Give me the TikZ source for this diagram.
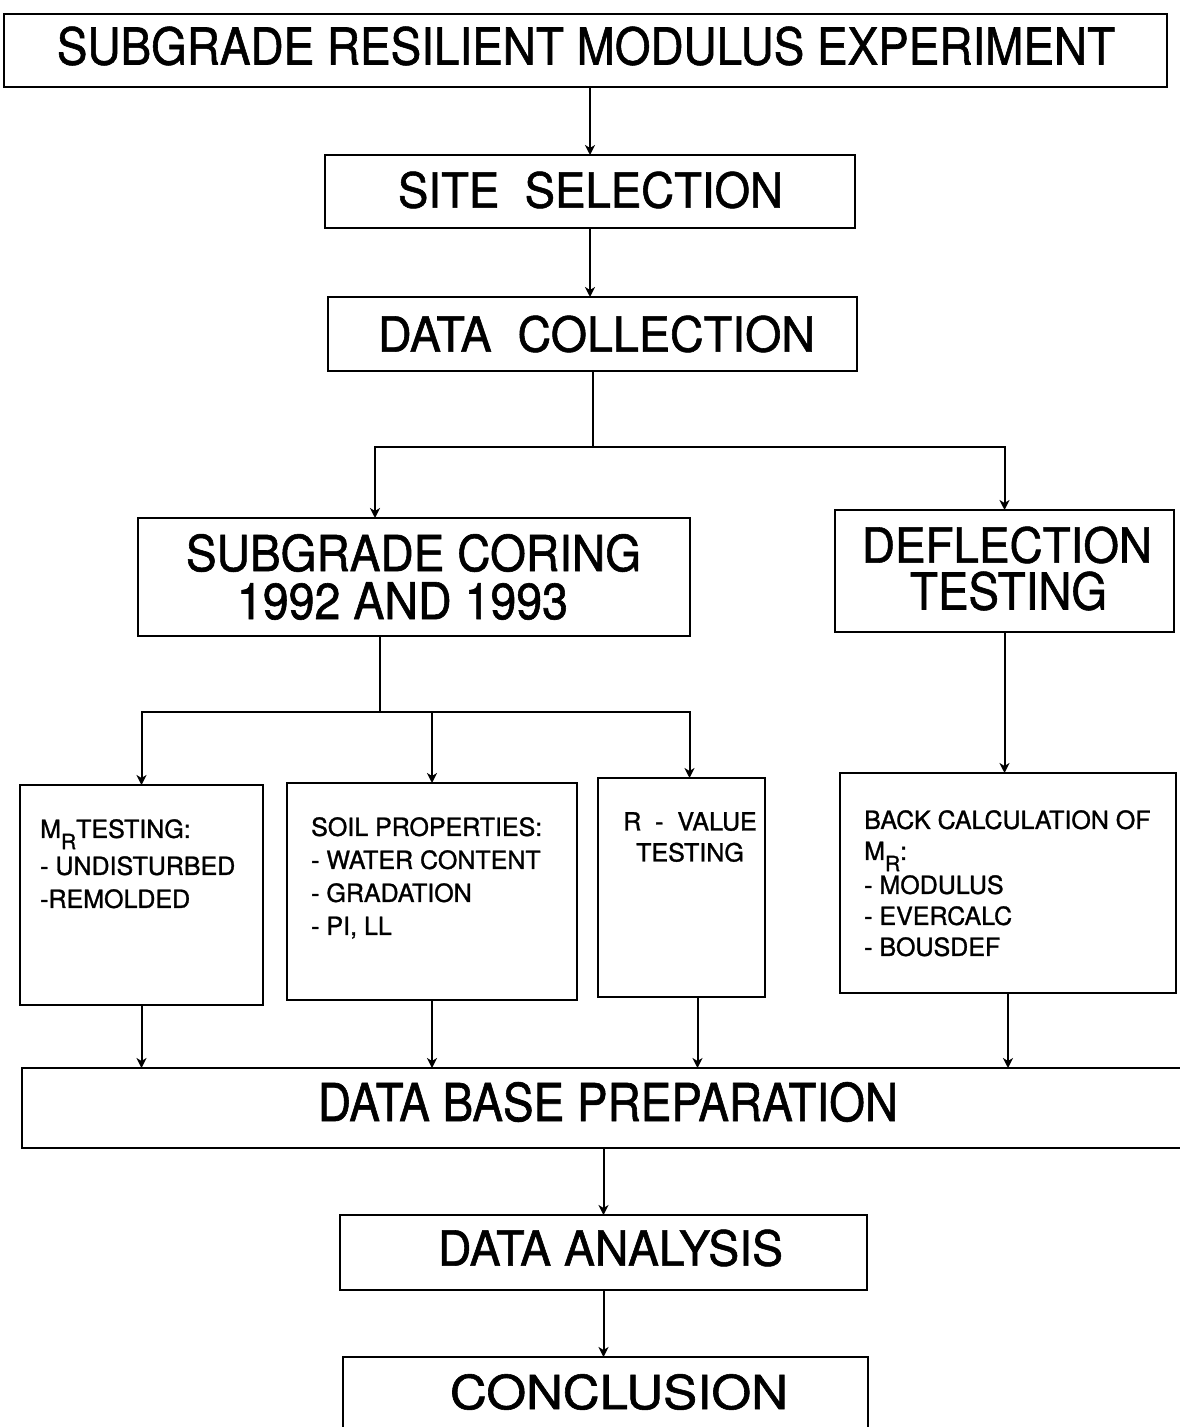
\documentclass[tikz,border=0pt]{standalone}
\usepackage{fontspec}
\setmainfont{TeX Gyre Heros}[FakeBold=1.2]
\usetikzlibrary{arrows.meta,calc}
% capital-letter labels stretched to a given width and cap height
\newcommand{\fitcaps}[3]{\resizebox{#1pt}{#2pt}{#3}}
% resilient modulus symbol M_R
\newcommand{\MR}{M\raisebox{-0.45em}{\fontsize{21}{21}\selectfont R}}

\begin{document}
\begin{tikzpicture}[x=1pt,y=-1pt,
  box/.style={draw, line width=2.8pt, inner sep=0pt, outer sep=0pt},
  link/.style={line width=2pt},
  arr/.style={link, -{Stealth[length=10pt,width=10pt,inset=3pt]}},
  big/.style={inner sep=0pt},
  small/.style={inner sep=0pt, anchor=north west, align=left,
                font=\fontsize{25}{33}\selectfont}]
\useasboundingbox (0,0) rectangle (1179,1427);

% boxes
\node[box, minimum width=1163pt, minimum height=73pt] (title) at (585.5,50.5) {};
\node[box, minimum width=530pt, minimum height=73pt] (site) at (590,191.5) {};
\node[box, minimum width=529pt, minimum height=74pt] (dc) at (592.5,334) {};
\node[box, minimum width=552pt, minimum height=118pt] (sc) at (414,577) {};
\node[box, minimum width=339pt, minimum height=122pt] (dt) at (1004.5,571) {};
\node[box, minimum width=243pt, minimum height=220pt] (b1) at (141.5,895) {};
\node[box, minimum width=290pt, minimum height=217pt] (b2) at (432,891.5) {};
\node[box, minimum width=167pt, minimum height=219pt] (b3) at (681.5,887.5) {};
\node[box, minimum width=336pt, minimum height=220pt] (b4) at (1008,883) {};
\node[box, minimum width=1168pt, minimum height=80pt] (db) at (606,1108) {};
\node[box, minimum width=527pt, minimum height=75pt] (da) at (603.5,1252.5) {};
\node[box, minimum width=525pt, minimum height=88pt] (cc) at (605.5,1401) {};

% large labels
\node[big] (tTitle) at (586,46) {\fitcaps{1058}{38}{SUBGRADE RESILIENT MODULUS EXPERIMENT}};
\node[big] (tSite) at (590.5,190) {\fitcaps{385}{36}{SITE\ \ SELECTION}};
\node[big] (tDc) at (596.5,334) {\fitcaps{437}{36}{DATA\ \ COLLECTION}};
\node[big] (tSc1) at (413.5,553) {\fitcaps{455}{37}{SUBGRADE CORING}};
\node[big] (tSc2) at (402.5,601) {\fitcaps{331}{37}{1992 AND 1993}};
\node[big] (tDt1) at (1007,545) {\fitcaps{290}{36}{DEFLECTION}};
\node[big] (tDt2) at (1008.5,591) {\fitcaps{197}{38}{TESTING}};
\node[big] (tDb) at (608,1102) {\fitcaps{580}{39}{DATA BASE PREPARATION}};
\node[big] (tDa) at (610.5,1248) {\fitcaps{345}{36}{DATA ANALYSIS}};
\node[big] (tCc) at (619,1392) {\fitcaps{338}{35}{CONCLUSION}};

% small box texts
\node[small] (tB1) at (40,819) {\MR TESTING:\\[4pt]- UNDISTURBED\\-REMOLDED};
\node[small] (tB2) at (311,817) {SOIL PROPERTIES:\\- WATER CONTENT\\- GRADATION\\- PI, LL};
\node[small, anchor=north, align=center, font=\fontsize{25}{31}\selectfont]
  (tB3) at (690,812) {R\ \ -\ \ VALUE\\TESTING};
\node[small, font=\fontsize{25}{31}\selectfont] (tB4) at (864,810)
  {BACK CALCULATION OF\\\MR:\\[3pt]- MODULUS\\- EVERCALC\\- BOUSDEF};

% connectors
\draw[arr] (site.north |- title.south) -- (site.north);
\draw[arr] (site.south) -- (site.south |- dc.north);

\coordinate (split1) at ($(dc.south)+(0,76)$);
\coordinate (scin) at ($(sc.north)+(-39,0)$);
\draw[link] (dc.south) -- (split1);
\draw[arr] (split1) -| (scin);
\draw[arr] (split1) -| (dt.north);

\coordinate (scout) at ($(sc.south)+(-34,0)$);
\coordinate (split2) at ($(scout)+(0,76)$);
\coordinate (b3in) at ($(b3.north)+(8,0)$);
\draw[link] (scout) -- (split2);
\draw[arr] (split2) -| (b1.north);
\draw[arr] (split2) -| (b2.north);
\draw[arr] (split2) -| (b3in);
\draw[arr] (dt.south) -- (dt.south |- b4.north);

\coordinate (b3out) at ($(b3.south)+(16,0)$);
\draw[arr] (b1.south) -- (b1.south |- db.north);
\draw[arr] (b2.south) -- (b2.south |- db.north);
\draw[arr] (b3out) -- (b3out |- db.north);
\draw[arr] (b4.south) -- (b4.south |- db.north);

\draw[arr] (db.south -| da.north) -- (da.north);
\draw[arr] (da.south) -- (da.south |- cc.north);
\end{tikzpicture}
\end{document}
